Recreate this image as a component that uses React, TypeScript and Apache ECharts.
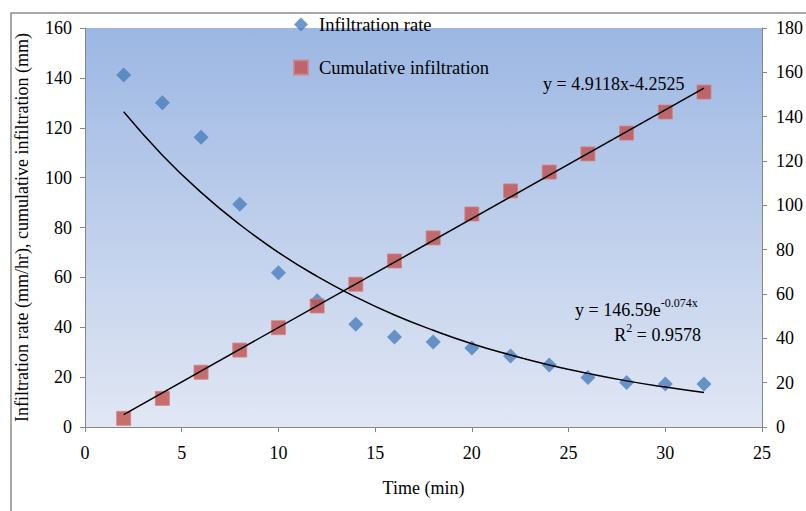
import React, { useEffect, useRef } from "react";
import * as echarts from "echarts";

const timeMin = [2, 4, 6, 8, 10, 12, 14, 16, 18, 20, 22, 24, 26, 28, 30, 32];
const infiltrationRate = [141.2, 130.0, 116.2, 89.3, 61.9, 50.6, 41.2, 36.1, 34.1, 31.7, 28.5, 24.9, 19.8, 17.8, 17.2, 17.2];
const cumulativeInfiltration = [3.9, 12.9, 24.7, 34.7, 44.8, 54.6, 64.4, 74.9, 85.3, 96.1, 106.5, 115.0, 123.2, 132.6, 142.1, 151.1];
// trend line values
const expTrend = [126.4, 109.0, 94.1, 81.2, 70.0, 60.4, 52.1, 44.9, 38.8, 33.4, 28.9, 24.9, 21.5, 18.5, 16.0, 13.8];
const linTrendX = [2, 32];
const linTrendY = [5.6, 152.9];
const xTickLabels = ["0", "5", "10", "15", "20", "25", "30", "25"];

const FONT = "Liberation Serif";

export default function App() {
  const ref = useRef<HTMLDivElement>(null);
  useEffect(() => {
    if (!ref.current) return;
    const chart = echarts.init(ref.current, undefined, { renderer: "svg" });
    const axisColor = "#868686";
    const txt = { fontFamily: FONT, fontSize: 18, color: "#000" };
    const eqBase = { fontFamily: FONT, fontSize: 18, lineHeight: 22, fill: "#000", verticalAlign: "bottom" };
    const eqSup = { fontFamily: FONT, fontSize: 12, lineHeight: 22, fill: "#000", verticalAlign: "top" };
    chart.setOption({
      animation: false,
      textStyle: { fontFamily: FONT },
      grid: {
        left: 85,
        right: 43,
        top: 28,
        bottom: 84,
        show: true,
        borderWidth: 0,
        backgroundColor: new echarts.graphic.LinearGradient(0, 0, 0, 1, [
          { offset: 0, color: "#9CB7E3" },
          { offset: 1, color: "#E1E7F4" },
        ]),
      },
      legend: {
        orient: "vertical",
        left: 288,
        top: 10,
        itemGap: 24,
        itemWidth: 14,
        itemHeight: 14,
        textStyle: { ...txt, fontSize: 18.5, padding: [0, 0, 0, 6] },
        data: [
          { name: "Infiltration rate", icon: "diamond" },
          { name: "Cumulative infiltration", icon: "rect" },
        ],
      },
      xAxis: {
        type: "value",
        min: 0,
        max: 35,
        interval: 5,
        name: "Time (min)",
        nameLocation: "middle",
        nameGap: 52,
        nameTextStyle: { ...txt },
        axisLine: { lineStyle: { color: axisColor } },
        axisTick: { show: true, length: 5, lineStyle: { color: axisColor } },
        axisLabel: {
          ...txt,
          margin: 17,
          formatter: (v: number) => xTickLabels[Math.round(v / 5)] ?? "",
        },
        splitLine: { show: false },
      },
      yAxis: [
        {
          type: "value",
          min: 0,
          max: 160,
          interval: 20,
          name: "Infiltration rate (mm/hr), cumulative infiltration (mm)",
          nameLocation: "middle",
          nameGap: 54,
          nameTextStyle: { ...txt },
          axisLine: { show: true, lineStyle: { color: axisColor } },
          axisTick: { show: true, length: 5, lineStyle: { color: axisColor } },
          axisLabel: { ...txt, margin: 13 },
          splitLine: { show: false },
        },
        {
          type: "value",
          min: 0,
          max: 180,
          interval: 20,
          position: "right",
          axisLine: { show: true, lineStyle: { color: axisColor } },
          axisTick: { show: true, length: 5, lineStyle: { color: axisColor } },
          axisLabel: { ...txt, margin: 14 },
          splitLine: { show: false },
        },
      ],
      series: [
        {
          name: "Infiltration rate",
          type: "scatter",
          yAxisIndex: 0,
          symbol: "diamond",
          symbolSize: 15,
          itemStyle: { color: "#4A7EBB" },
          data: timeMin.map((t, i) => [t, infiltrationRate[i]]),
          z: 2,
        },
        {
          name: "Cumulative infiltration",
          type: "scatter",
          yAxisIndex: 1,
          symbol: "rect",
          symbolSize: 14,
          itemStyle: { color: "#C0504D", borderColor: "#D4817F", borderWidth: 1 },
          data: timeMin.map((t, i) => [t, cumulativeInfiltration[i]]),
          z: 3,
        },
        {
          name: "Exp trend",
          type: "line",
          yAxisIndex: 0,
          smooth: true,
          showSymbol: false,
          symbol: "none",
          lineStyle: { color: "#000", width: 1.5 },
          data: timeMin.map((t, i) => [t, expTrend[i]]),
          z: 4,
        },
        {
          name: "Linear trend",
          type: "line",
          yAxisIndex: 1,
          showSymbol: false,
          symbol: "none",
          lineStyle: { color: "#000", width: 1.5 },
          data: linTrendX.map((t, i) => [t, linTrendY[i]]),
          z: 4,
        },
      ],
      graphic: [
        {
          type: "rect",
          shape: { x: 11, y: 13, width: 900, height: 600 },
          style: { fill: "none", stroke: "#8C8C8C", lineWidth: 1.5 },
          silent: true,
          z: -10,
        },
        {
          type: "text",
          left: 543,
          top: 75,
          style: { text: "y = 4.9118x-4.2525", font: `18px ${FONT}`, fill: "#000" },
          z: 10,
        },
        {
          type: "text",
          left: 575,
          top: 297,
          style: {
            text: "{b|y = 146.59e}{s|-0.074x}",
            rich: { b: eqBase, s: eqSup },
          },
          z: 10,
        },
        {
          type: "text",
          right: 806 - 701,
          top: 322,
          style: {
            text: "{b|R}{s|2}{b| = 0.9578}",
            rich: { b: eqBase, s: eqSup },
          },
          z: 10,
        },
      ],
    });
    return () => chart.dispose();
  }, []);
  return <div ref={ref} style={{ width: 806, height: 511, position: "absolute", left: 0, top: 0 }} />;
}
